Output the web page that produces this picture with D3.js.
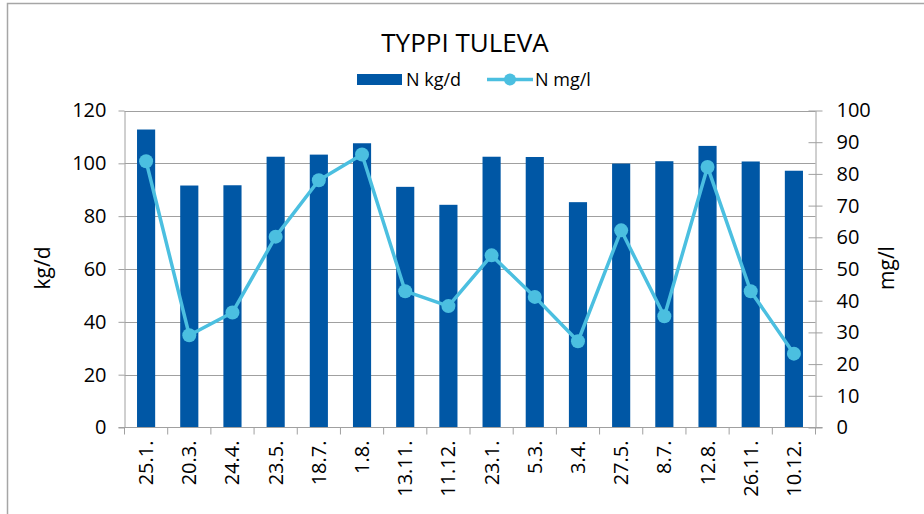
<!DOCTYPE html>
<html><head><meta charset="utf-8">
<script src="https://cdn.jsdelivr.net/npm/d3@7/dist/d3.min.js"></script>
<style>
html,body{margin:0;padding:0;background:#fff;}
svg{display:block;font-family:"Open Sans",sans-serif;}
</style></head>
<body><svg id="c" width="924" height="514"></svg>
<script>
const categories = ["25.1.","20.3.","24.4.","23.5.","18.7.","1.8.","13.11.","11.12.","23.1.","5.3.","3.4.","27.5.","8.7.","12.8.","26.11.","10.12."];
const nKgD = [112.8,91.6,91.7,102.5,103.3,107.6,91.1,84.3,102.5,102.4,85.3,99.9,100.8,106.6,100.7,97.2];
const nMgL = [84.0,29.1,36.3,60.2,78.0,86.1,43.0,38.3,54.3,41.2,27.2,62.2,35.1,82.2,43.0,23.3];
const leftTicks = [0,20,40,60,80,100,120];
const rightTicks = [0,10,20,30,40,50,60,70,80,90,100];
const title = "TYPPI TULEVA";
const seriesNames = ["N kg/d","N mg/l"];
const axisTitles = ["kg/d","mg/l"];

const svg = d3.select("#c");
const X0 = 124.5, X1 = 815.5, Y0 = 427.5, Y1 = 110.5;
const barColor = "#0057A5", lineColor = "#4BBFE0", gridColor = "#A0A0A0";

// frame
svg.append("path").attr("d","M7.5,520 V3.5 H930").attr("fill","none").attr("stroke","#A6A6A6").attr("stroke-width",1.5);

const x = d3.scaleBand().domain(categories).range([X0, X1]).paddingInner(0.58).paddingOuter(0.29);
const xb = d3.scaleBand().domain(categories).range([X0, X1]);
const yL = d3.scaleLinear().domain([0,120]).range([Y0, Y1]);
const yR = d3.scaleLinear().domain([0,100]).range([Y0, Y1]);

// gridlines
svg.append("g").selectAll("line").data(leftTicks.slice(1)).join("line")
  .attr("x1", X0).attr("x2", X1).attr("y1", d=>Math.round(yL(d))+0.5).attr("y2", d=>Math.round(yL(d))+0.5)
  .attr("stroke", gridColor).attr("stroke-width",1);

// bars
svg.append("g").selectAll("rect").data(nKgD).join("rect")
  .attr("x",(d,i)=>x(categories[i])).attr("width",x.bandwidth())
  .attr("y",d=>yL(d)).attr("height",d=>Y0-yL(d)).attr("fill",barColor);

// left axis
const gl = svg.append("g").attr("transform",`translate(${X0},0)`)
  .call(d3.axisLeft(yL).tickValues(leftTicks).tickSize(6).tickPadding(12).tickSizeOuter(0));
gl.selectAll(".tick line").attr("x2",-6);
// right axis
const gr = svg.append("g").attr("transform",`translate(${X1},0)`)
  .call(d3.axisRight(yR).tickValues(rightTicks).tickSize(7).tickPadding(14).tickSizeOuter(0));
gr.selectAll(".tick line").attr("x1",-7);
[gl,gr].forEach(g=>{
  g.select(".domain").attr("stroke",gridColor);
  g.selectAll(".tick line").attr("stroke",gridColor);
  g.selectAll(".tick text").attr("fill","#000").style("font-size","20px").style("font-family","'Open Sans',sans-serif");
});

// x axis
svg.append("line").attr("x1",X0-6).attr("x2",X1+7).attr("y1",Y0).attr("y2",Y0).attr("stroke",gridColor);
const bounds = categories.map(c=>xb(c)).concat([X1]);
svg.append("g").selectAll("line").data(bounds).join("line")
  .attr("x1",d=>d).attr("x2",d=>d).attr("y1",Y0).attr("y2",Y0+7).attr("stroke",gridColor);
svg.append("g").selectAll("text").data(categories).join("text")
  .attr("transform",d=>`translate(${xb(d)+xb.bandwidth()/2+7},${Y0+13}) rotate(-90)`)
  .attr("text-anchor","end").style("font-size","20px").attr("fill","#000").text(d=>d);

// line
const line = d3.line().x((d,i)=>xb(categories[i])+xb.bandwidth()/2).y(d=>yR(d));
svg.append("path").datum(nMgL).attr("d",line).attr("fill","none").attr("stroke",lineColor).attr("stroke-width",3.5).attr("stroke-linejoin","round");
svg.append("g").selectAll("circle").data(nMgL).join("circle")
  .attr("cx",(d,i)=>xb(categories[i])+xb.bandwidth()/2).attr("cy",d=>yR(d)).attr("r",7).attr("fill",lineColor);

// title
svg.append("text").attr("x",465).attr("y",52).attr("text-anchor","middle").style("font-size","26px").attr("fill","#000").text(title);

// legend
const lg = svg.append("g");
lg.append("rect").attr("x",357).attr("y",74).attr("width",45).attr("height",11).attr("fill",barColor);
lg.append("text").attr("x",406).attr("y",86).style("font-size","18px").attr("fill","#000").text(seriesNames[0]);
lg.append("line").attr("x1",487).attr("x2",533).attr("y1",79.5).attr("y2",79.5).attr("stroke",lineColor).attr("stroke-width",3.5);
lg.append("circle").attr("cx",510).attr("cy",79.5).attr("r",6).attr("fill",lineColor);
lg.append("text").attr("x",535).attr("y",86).style("font-size","18px").attr("fill","#000").text(seriesNames[1]);

// axis titles
svg.append("text").attr("transform","translate(50,268) rotate(-90)").attr("text-anchor","middle").style("font-size","21px").attr("fill","#000").text(axisTitles[0]);
svg.append("text").attr("transform","translate(894,268) rotate(-90)").attr("text-anchor","middle").style("font-size","21px").attr("fill","#000").text(axisTitles[1]);
</script></body></html>
